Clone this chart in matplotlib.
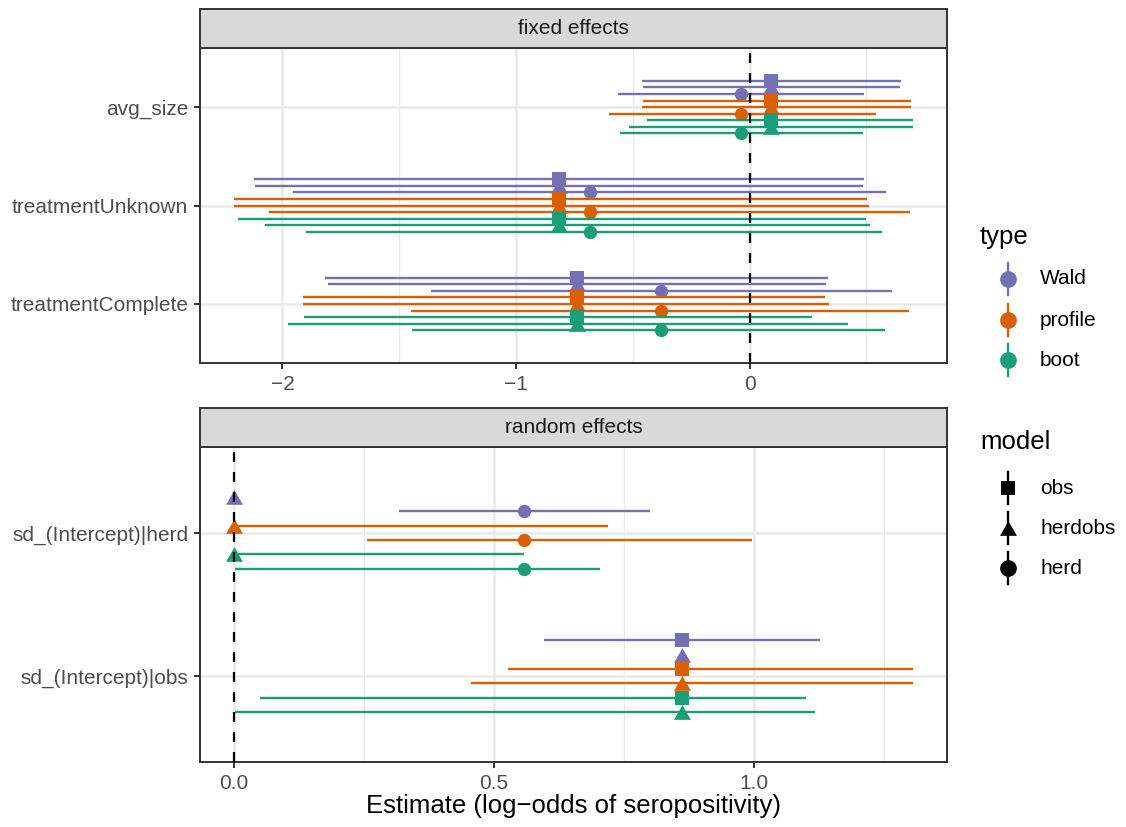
import numpy as np
import matplotlib
matplotlib.use("Agg")
import matplotlib.pyplot as plt

plt.rcParams['font.family'] = ['Liberation Sans', 'DejaVu Sans']

W, H = 1126, 827

types = ["Wald", "profile", "boot"]
models = ["obs", "herdobs", "herd"]
type_colors = ["#7570B3", "#D95F02", "#1B9E77"]

# equilateral triangle like R's pch 17
TRI = [(-1, -0.866), (1, -0.866), (0, 0.866)]
model_markers = {"obs": "s", "herdobs": TRI, "herd": "o"}
model_msize = {"obs": 10, "herdobs": 12.2, "herd": 9.6}

# fixed effects, estimates per model (obs, herdobs, herd)
# CI rows ordered Wald(obs, herdobs, herd), profile(...), boot(...)
fixed_terms = ["treatmentComplete", "treatmentUnknown", "avg_size"]

avg_size_est = [0.090, 0.090, -0.037]
avg_size_lo = [-0.461, -0.457, -0.565, -0.457, -0.461, -0.602, -0.441, -0.518, -0.557]
avg_size_hi = [0.647, 0.643, 0.490, 0.692, 0.690, 0.541, 0.700, 0.698, 0.486]

unknown_est = [-0.816, -0.816, -0.684]
unknown_lo = [-2.122, -2.118, -1.953, -2.208, -2.208, -2.057, -2.192, -2.073, -1.898]
unknown_hi = [0.488, 0.486, 0.582, 0.502, 0.510, 0.686, 0.500, 0.514, 0.565]

complete_est = [-0.741, -0.741, -0.380]
complete_lo = [-1.816, -1.804, -1.365, -1.910, -1.910, -1.451, -1.906, -1.978, -1.445]
complete_hi = [0.337, 0.327, 0.610, 0.322, 0.341, 0.682, 0.265, 0.422, 0.578]

# random effects
random_terms = ["sd_(Intercept)|obs", "sd_(Intercept)|herd"]

re_herd_models = ["herdobs", "herd"]
re_herd_est = [0.0, 0.559]
re_herd_lo = [np.nan, 0.318, 0.0, 0.256, 0.0, 0.003]
re_herd_hi = [np.nan, 0.801, 0.720, 0.997, 0.558, 0.705]

re_obs_models = ["obs", "herdobs"]
re_obs_est = [0.862, 0.862]
re_obs_lo = [0.597, np.nan, 0.527, 0.456, 0.050, 0.003]
re_obs_hi = [1.128, np.nan, 1.307, 1.307, 1.101, 1.118]

fixed_data = [
    (complete_est, complete_lo, complete_hi, models),
    (unknown_est, unknown_lo, unknown_hi, models),
    (avg_size_est, avg_size_lo, avg_size_hi, models),
]
random_data = [
    (re_obs_est, re_obs_lo, re_obs_hi, re_obs_models),
    (re_herd_est, re_herd_lo, re_herd_hi, re_herd_models),
]

GRID = "#EBEBEB"
BORDER = "#333333"
TICKC = "#4D4D4D"


def fig_rect(left, top, right, bottom):
    return [left / W, 1 - bottom / H, (right - left) / W, (bottom - top) / H]


def draw_panel(ax, data, labels, major, minor, dodge=0.6):
    n = len(types) * len(data[0][3])
    step = dodge / n
    for level, (est, lo, hi, mods) in enumerate(data, start=1):
        k = 0
        for ti, color in enumerate(type_colors):
            for mi, m in enumerate(mods):
                y = level + ((n - 1) / 2 - k) * step
                a, b = lo[k], hi[k]
                if not np.isnan(a):
                    ax.plot([a, b], [y, y], color=color, lw=1.7,
                            solid_capstyle='butt', zorder=3 + k)
                ax.plot(est[mi], y, marker=model_markers[m], color=color,
                        markersize=model_msize[m], mew=0, ls='none', zorder=3 + k)
                k += 1
    ax.axvline(0, color="black", lw=1.6, dashes=(4.5, 4.5), zorder=20)

    ax.set_yticks(range(1, len(labels) + 1))
    ax.set_yticklabels(labels)
    ax.set_ylim(0.4, len(labels) + 0.6)
    ax.set_xticks(major)
    ax.set_xticks(minor, minor=True)
    ax.grid(True, which='major', color=GRID, lw=1.8, zorder=0)
    ax.grid(True, which='minor', axis='x', color=GRID, lw=0.9, zorder=0)
    ax.set_axisbelow(True)
    ax.tick_params(which='major', length=4.5, width=1.4, color=BORDER,
                   labelsize=15, labelcolor=TICKC, pad=4)
    ax.tick_params(which='minor', length=0)
    for sp in ax.spines.values():
        sp.set_color(BORDER)
        sp.set_linewidth(1.4)


def draw_strip(rect, text):
    s = fig.add_axes(rect)
    s.set_facecolor("#D9D9D9")
    s.set_xticks([])
    s.set_yticks([])
    for sp in s.spines.values():
        sp.set_color(BORDER)
        sp.set_linewidth(1.4)
    s.text(0.5, 0.5, text, ha='center', va='center', fontsize=15,
           color="#1A1A1A", transform=s.transAxes)


fig = plt.figure(figsize=(W / 100, H / 100), dpi=100)

# legend layer in pixel coordinates
leg = fig.add_axes([0, 0, 1, 1])
leg.set_xlim(0, W)
leg.set_ylim(H, 0)
leg.axis('off')

ax1 = fig.add_axes(fig_rect(200, 48, 947, 363))
draw_panel(ax1, fixed_data, fixed_terms, [-2, -1, 0], [-1.5, -0.5, 0.5])
ax1.set_xlim(-2.353, 0.845)
ax1.set_xticklabels(["\u22122", "\u22121", "0"])
draw_strip(fig_rect(200, 9, 947, 48), "fixed effects")

ax2 = fig.add_axes(fig_rect(200, 447, 947, 762))
draw_panel(ax2, random_data, random_terms, [0, 0.5, 1.0], [0.25, 0.75, 1.25])
ax2.set_xlim(-0.065, 1.372)
ax2.set_xticklabels(["0.0", "0.5", "1.0"])
draw_strip(fig_rect(200, 408, 947, 447), "random effects")

fig.text((200 + 947) / 2 / W, 1 - 806 / H, "Estimate (log\u2212odds of seropositivity)",
         ha='center', va='center', fontsize=18.5, color="black")

# legends
key_x, lab_x = 1008, 1040
leg.text(980, 237, "type", ha='left', va='center', fontsize=18.5)
for yy, name, color in zip([279, 320, 360], types, type_colors):
    leg.plot([key_x, key_x], [yy - 16, yy + 16], color=color, lw=1.7)
    leg.plot(key_x, yy, marker='o', color=color, markersize=12, mew=0)
    leg.text(lab_x, yy, name, ha='left', va='center', fontsize=15)

leg.text(980, 442, "model", ha='left', va='center', fontsize=18.5)
leg_msize = {"obs": 10, "herdobs": 12.2, "herd": 12}
for yy, m in zip([488, 528, 568], models):
    leg.plot([key_x, key_x], [yy - 16, yy + 16], color="black", lw=1.7)
    leg.plot(key_x, yy, marker=model_markers[m], color="black",
             markersize=leg_msize[m], mew=0)
    leg.text(lab_x, yy, m, ha='left', va='center', fontsize=15)

fig.savefig("out.png", dpi=100)
